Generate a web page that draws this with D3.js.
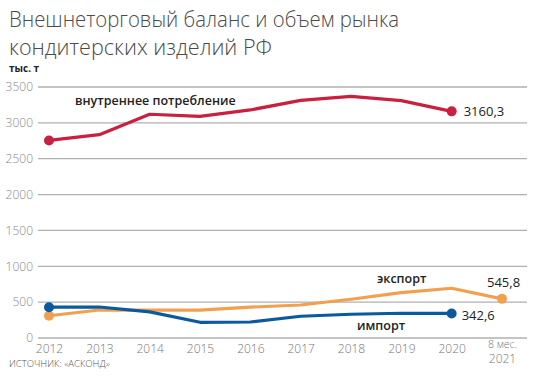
<!DOCTYPE html>
<html><head><meta charset="utf-8">
<script src="https://cdn.jsdelivr.net/npm/d3@7"></script>
<style>
body{margin:0;background:#fff;}
svg{display:block;}
</style></head>
<body><svg id="c" width="539" height="380"></svg>
<script>
const categories = ["2012","2013","2014","2015","2016","2017","2018","2019","2020","8 мес.|2021"];
const consumption = [2755, 2835, 3120, 3090, 3180, 3314, 3370, 3310, 3160.3, null];
const exportVals = [310, 390, 390, 390, 430, 460, 540, 633, 694, 545.8];
const importVals = [430, 432, 365, 219, 223, 303, 331, 345, 342.6, null];
const yTicks = [0, 500, 1000, 1500, 2000, 2500, 3000, 3500];

const svg = d3.select("#c");
const x = d3.scalePoint().domain(categories).range([49, 502]);
const y = d3.scaleLinear().domain([0, 3500]).range([338, 87]);

// title
const title = svg.append("g").attr("font-family","'Open Sans', sans-serif").attr("font-weight",300).attr("fill","#4a4a4a").attr("font-size",22);
title.append("text").attr("x",9).attr("y",27).attr("textLength",390).attr("lengthAdjust","spacingAndGlyphs").text("Внешнеторговый баланс и объем рынка");
title.append("text").attr("x",9).attr("y",55).attr("textLength",263).attr("lengthAdjust","spacingAndGlyphs").text("кондитерских изделий РФ");
svg.append("text").attr("x",9).attr("y",72).attr("font-family","'Open Sans', sans-serif").attr("font-weight",700).attr("font-size",10).attr("fill","#222").text("тыс. т");

// grid
const yAxis = d3.axisLeft(y).tickValues(yTicks).tickFormat(d3.format("d")).tickSize(0).tickPadding(5);
const gy = svg.append("g").attr("transform","translate(38,0)").call(yAxis);
gy.select(".domain").remove();
gy.selectAll("text").attr("font-family","'Open Sans', sans-serif").attr("font-size",12).attr("fill","#888").attr("font-weight",300);
svg.append("g").selectAll("line").data(yTicks).join("line")
  .attr("x1",38).attr("x2",527).attr("y1",d=>y(d)).attr("y2",d=>y(d))
  .attr("stroke","#b0b0b0").attr("stroke-width",1.3);

// x labels
const xAxis = d3.axisBottom(x).tickSize(0).tickPadding(0).tickFormat(()=>"");
const gx = svg.append("g").attr("transform","translate(0,338)").call(xAxis);
gx.select(".domain").remove();
gx.selectAll(".tick").each(function(d){
  const parts = d.split("|");
  const t = d3.select(this).append("text").attr("text-anchor","middle")
    .attr("font-family","'Open Sans', sans-serif").attr("font-weight",300).attr("font-size",12).attr("fill","#777");
  if(parts.length===1){ t.attr("y",15).text(parts[0]); }
  else {
    t.append("tspan").attr("x",0).attr("y",10).attr("font-size",10.5).text(parts[0]);
    t.append("tspan").attr("x",0).attr("y",25).text(parts[1]);
  }
});

function series(vals, color){
  const pts = categories.map((c,i)=>({c, v: vals[i]})).filter(p=>p.v!=null);
  const line = d3.line().x(p=>x(p.c)).y(p=>y(p.v));
  svg.append("path").datum(pts).attr("d",line).attr("fill","none").attr("stroke",color).attr("stroke-width",3.2).attr("stroke-linejoin","round");
  svg.append("g").selectAll("circle").data([pts[0], pts[pts.length-1]]).join("circle")
    .attr("cx",p=>x(p.c)).attr("cy",p=>y(p.v)).attr("r",5).attr("fill",color);
  return pts;
}
const cRed = "#c8203e", cBlue = "#0a5a9e", cOrange = "#f2a04f";
series(exportVals, cOrange);
series(importVals, cBlue);
series(consumption, cRed);

const lab = svg.append("g").attr("font-family","'Open Sans', sans-serif").attr("fill","#222");
lab.append("text").attr("x",75).attr("y",105).attr("font-size",12.5).attr("font-weight",600).text("внутреннее потребление");
lab.append("text").attr("x",377).attr("y",283).attr("font-size",12.5).attr("font-weight",600).text("экспорт");
lab.append("text").attr("x",357).attr("y",330).attr("font-size",12.5).attr("font-weight",600).text("импорт");
lab.append("text").attr("x",x("2020")+12).attr("y",y(3160.3)+5).attr("font-size",13).text("3160,3");
lab.append("text").attr("x",x("2020")+10).attr("y",y(342.6)+7).attr("font-size",13).text("342,6");
lab.append("text").attr("x",x("8 мес.|2021")-15).attr("y",287).attr("font-size",13).text("545,8");

svg.append("text").attr("x",9).attr("y",367).attr("font-family","'Open Sans', sans-serif").attr("font-weight",300).attr("font-size",9.5).attr("fill","#555").text("ИСТОЧНИК: «АСКОНД»");
</script></body></html>
